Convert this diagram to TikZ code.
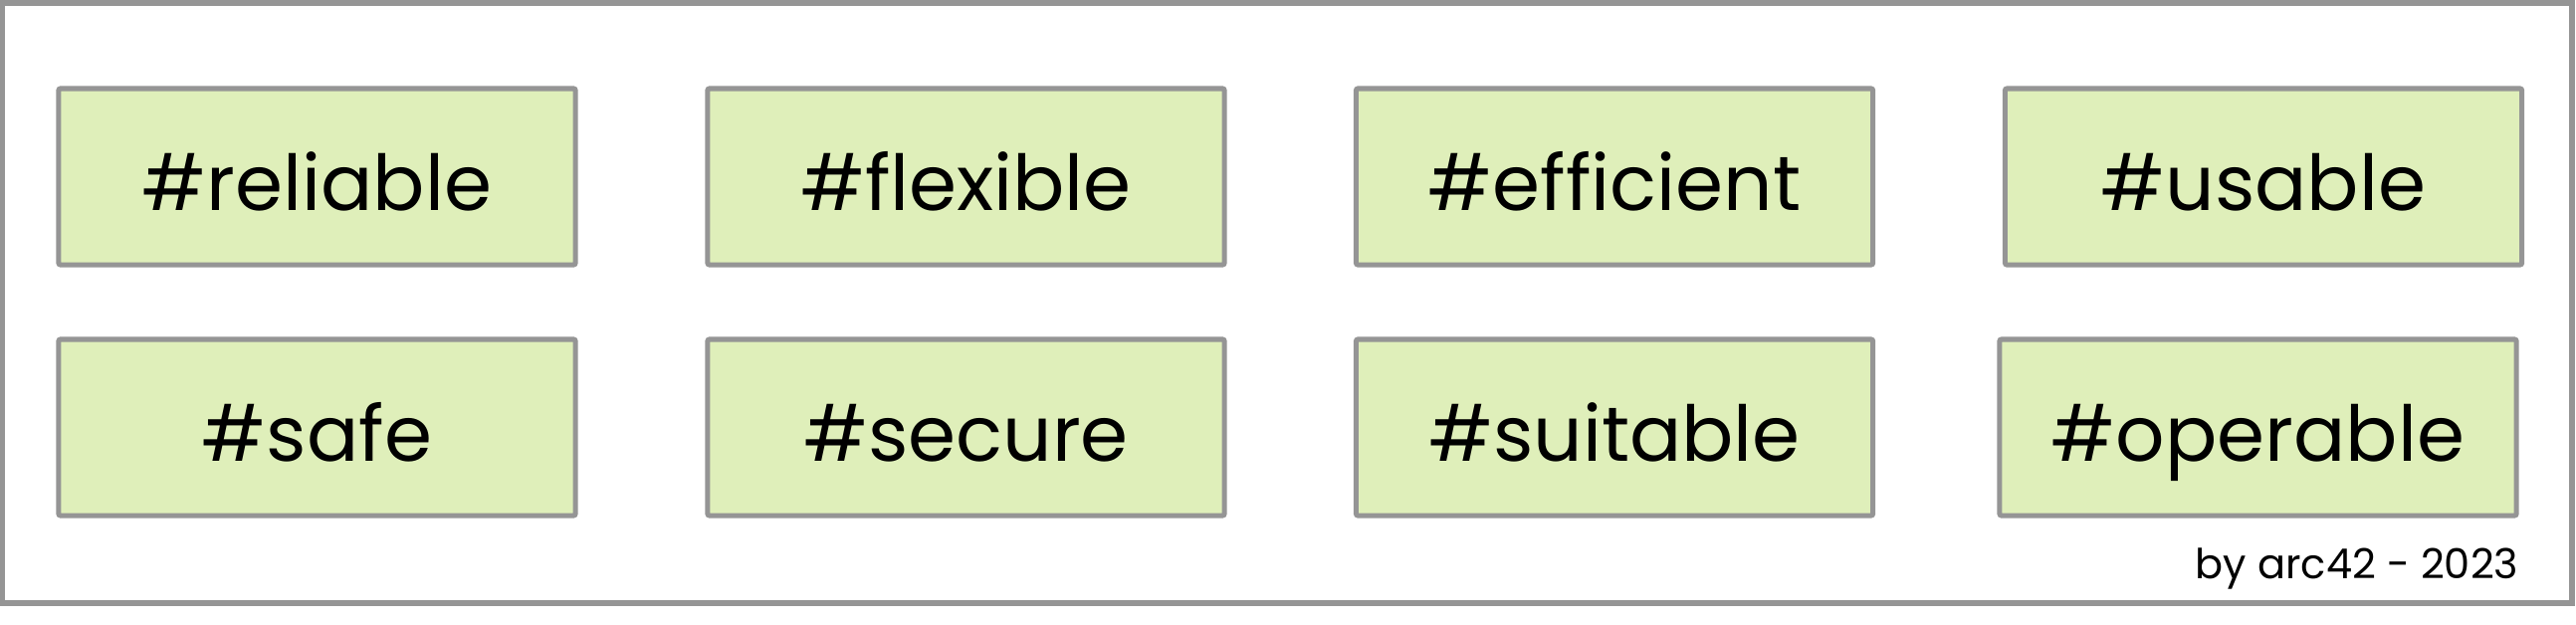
\documentclass[tikz,border=0pt]{standalone}
\usepackage{fontspec}
\setmainfont{Poppins}
\definecolor{boxfill}{HTML}{DFEFBA}
\definecolor{boxline}{HTML}{959595}
\begin{document}
\begin{tikzpicture}[x=0.01cm,y=-0.01cm,
  tagbox/.style={draw=boxline, fill=boxfill, line width=1.45pt, rounded corners=0.6pt,
    minimum width=5.19cm, minimum height=1.77cm, inner sep=0pt,
    text height=0.67cm, text depth=0pt, font=\fontsize{22}{26}\selectfont},
  frame/.style={draw=boxline, line width=1.6pt}]
\useasboundingbox (0,0) rectangle (2588,627);
\node[frame, minimum width=25.8cm, minimum height=6.03cm, inner sep=0pt] (outer) at (1293,304.5) {};
\node[tagbox] (reliable) at (318.5,177.5) {\#reliable};
\node[tagbox] (flexible) at (970.5,177.5) {\#flexible};
\node[tagbox] (efficient) at (1622,177.5) {\#efficient};
\node[tagbox] (usable) at (2274,177.5) {\#usable};
\node[tagbox] (safe) at (318.5,429.5) {\#safe};
\node[tagbox] (secure) at (970.5,429.5) {\#secure};
\node[tagbox] (suitable) at (1622,429.5) {\#suitable};
\node[tagbox] (operable) at (2268.5,429.5) {\#operable};
\node[anchor=base east, inner sep=0pt, font=\fontsize{11.8}{14}\selectfont] (credit) at (2531,581) {by arc42 - 2023};
\end{tikzpicture}
\end{document}
